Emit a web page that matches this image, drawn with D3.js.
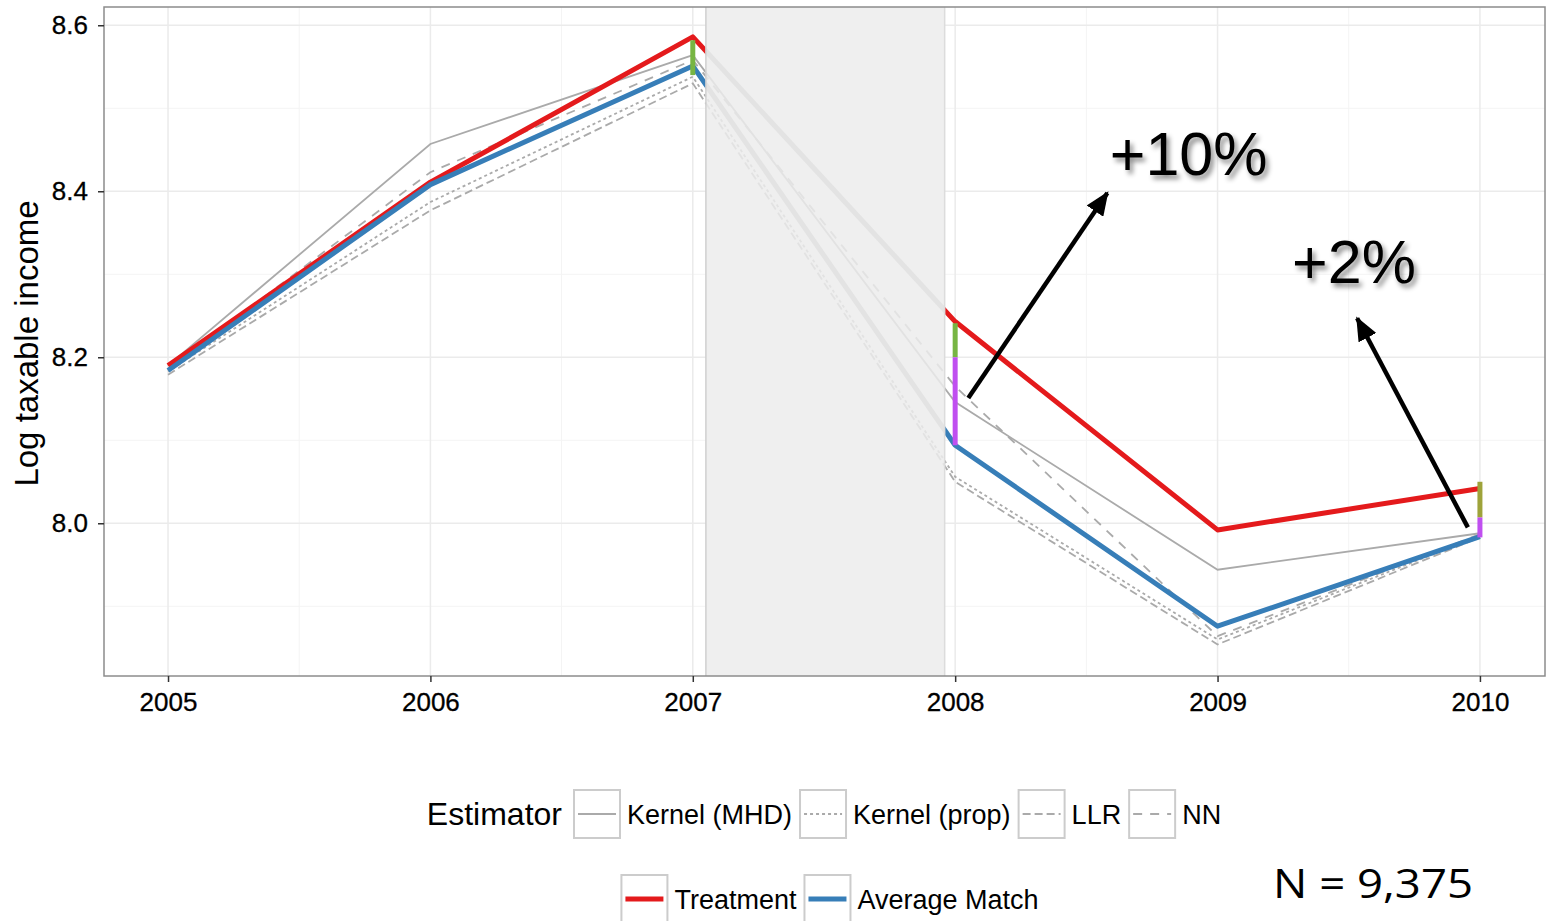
<!DOCTYPE html>
<html>
<head>
<meta charset="utf-8">
<script src="https://cdn.jsdelivr.net/npm/d3@7"></script>
<style>
  body { margin: 0; background: #fff; }
  svg { display: block; font-family: "Liberation Sans", Arial, sans-serif; }
</style>
</head>
<body>
<svg width="1548" height="921"></svg>
<script>
// ---- data ----
var years = [2005, 2006, 2007, 2008, 2009, 2010];
var treatment    = [8.190, 8.411, 8.586, 8.243, 7.992, 8.042];
var averageMatch = [8.184, 8.408, 8.551, 8.094, 7.876, 7.984];
var kernelMHD    = [8.190, 8.457, 8.564, 8.146, 7.944, 7.988];
var kernelProp   = [8.183, 8.387, 8.538, 8.056, 7.860, 7.985];
var llr          = [8.179, 8.377, 8.530, 8.050, 7.854, 7.983];
var nn           = [8.186, 8.423, 8.558, 8.165, 7.864, 7.987];

var estimatorNames = ['Kernel (MHD)', 'Kernel (prop)', 'LLR', 'NN'];
var groupNames = ['Treatment', 'Average Match'];

var yTicks = [8.0, 8.2, 8.4, 8.6];
var yMinor = [7.9, 8.1, 8.3, 8.5];
var xMinor = [2005.5, 2006.5, 2007.5, 2008.5, 2009.5];

// shaded period (in years)
var shadeFrom = 2007.05, shadeTo = 2007.96;

// coloured gap bars: year, low, high, kind
var gapYears = [2007, 2008, 2008, 2010, 2010];
var gapLow   = [8.540, 8.200, 8.094, 8.007, 7.983];
var gapHigh  = [8.582, 8.241, 8.200, 8.050, 8.007];
var gapKind  = ['green', 'green', 'magenta', 'olive', 'magenta'];

// annotation arrows (data coords) and labels
var arrowFromX = [2008.05, 2009.954], arrowFromY = [8.151, 7.995];
var arrowToX   = [2008.58, 2009.532], arrowToY   = [8.398, 8.247];
var noteText = ['+10%', '+2%'];
var noteX = [2008.89, 2009.52], noteY = [8.420, 8.289];

// ---- layout ----
var svg = d3.select('svg');
var panel = {left: 104, top: 7, right: 1545, bottom: 676};

var x = d3.scaleLinear().domain([2004.756, 2010.248]).range([panel.left, panel.right]);
var y = d3.scaleLinear().domain([7.816, 8.622]).range([panel.bottom, panel.top]);

var gapColor = {green: '#77b543', magenta: '#c04ff0', olive: '#9ea33a'};
var estStyle = [
  {dash: null},
  {dash: '3,3'},
  {dash: '8,4'},
  {dash: '9,8'}
];
var estData = [kernelMHD, kernelProp, llr, nn];

var defs = svg.append('defs');
defs.append('clipPath').attr('id', 'panelClip')
  .append('rect')
  .attr('x', panel.left).attr('y', panel.top)
  .attr('width', panel.right - panel.left).attr('height', panel.bottom - panel.top);
defs.append('clipPath').attr('id', 'shadeClip')
  .append('rect')
  .attr('x', x(shadeFrom)).attr('y', panel.top)
  .attr('width', x(shadeTo) - x(shadeFrom)).attr('height', panel.bottom - panel.top);
var shadow = defs.append('filter').attr('id', 'shadow')
  .attr('x', '-20%').attr('y', '-20%').attr('width', '140%').attr('height', '150%');
shadow.append('feDropShadow')
  .attr('dx', 3).attr('dy', 4).attr('stdDeviation', 2.5)
  .attr('flood-color', '#000').attr('flood-opacity', 0.45);
defs.append('marker').attr('id', 'head')
  .attr('markerUnits', 'userSpaceOnUse')
  .attr('viewBox', '0 0 24 20')
  .attr('refX', 22).attr('refY', 10)
  .attr('markerWidth', 24).attr('markerHeight', 20)
  .attr('orient', 'auto')
  .append('path').attr('d', 'M0,0 L24,10 L0,20 Z').attr('fill', '#000');

// panel background and grid
svg.append('rect')
  .attr('x', panel.left).attr('y', panel.top)
  .attr('width', panel.right - panel.left).attr('height', panel.bottom - panel.top)
  .attr('fill', '#fff');

var grid = svg.append('g');
grid.selectAll('.ymin').data(yMinor).enter().append('line')
  .attr('x1', panel.left).attr('x2', panel.right)
  .attr('y1', function(d){ return y(d); }).attr('y2', function(d){ return y(d); })
  .attr('stroke', '#f4f4f4').attr('stroke-width', 1);
grid.selectAll('.xmin').data(xMinor).enter().append('line')
  .attr('y1', panel.top).attr('y2', panel.bottom)
  .attr('x1', function(d){ return x(d); }).attr('x2', function(d){ return x(d); })
  .attr('stroke', '#f4f4f4').attr('stroke-width', 1);
grid.selectAll('.ymaj').data(yTicks).enter().append('line')
  .attr('x1', panel.left).attr('x2', panel.right)
  .attr('y1', function(d){ return y(d); }).attr('y2', function(d){ return y(d); })
  .attr('stroke', '#ebebeb').attr('stroke-width', 1.5);
grid.selectAll('.xmaj').data(years).enter().append('line')
  .attr('y1', panel.top).attr('y2', panel.bottom)
  .attr('x1', function(d){ return x(d); }).attr('x2', function(d){ return x(d); })
  .attr('stroke', '#ebebeb').attr('stroke-width', 1.5);

// lines
var line = d3.line()
  .x(function(d, i){ return x(years[i]); })
  .y(function(d){ return y(d); });

function drawSeries(g, faint) {
  estData.forEach(function(vals, i){
    g.append('path').attr('d', line(vals))
      .attr('fill', 'none')
      .attr('stroke', faint ? '#e2e2e2' : '#aaaaaa')
      .attr('stroke-width', 1.8)
      .attr('stroke-dasharray', estStyle[i].dash);
  });
  g.append('path').attr('d', line(treatment))
    .attr('fill', 'none').attr('stroke', faint ? '#e3e3e3' : '#e41a1c')
    .attr('stroke-width', 5).attr('stroke-linejoin', 'round');
  g.append('path').attr('d', line(averageMatch))
    .attr('fill', 'none').attr('stroke', faint ? '#e3e3e3' : '#377eb8')
    .attr('stroke-width', 5).attr('stroke-linejoin', 'round');
}

var plot = svg.append('g').attr('clip-path', 'url(#panelClip)');
drawSeries(plot.append('g'), false);

// shaded period drawn over the lines
plot.append('rect')
  .attr('x', x(shadeFrom)).attr('y', panel.top)
  .attr('width', x(shadeTo) - x(shadeFrom)).attr('height', panel.bottom - panel.top)
  .attr('fill', '#efefef');
drawSeries(plot.append('g').attr('clip-path', 'url(#shadeClip)'), true);
plot.append('line')
  .attr('x1', x(shadeFrom)).attr('x2', x(shadeFrom))
  .attr('y1', panel.top).attr('y2', panel.bottom)
  .attr('stroke', '#cfcfcf').attr('stroke-width', 1.5);
plot.append('line')
  .attr('x1', x(shadeTo)).attr('x2', x(shadeTo))
  .attr('y1', panel.top).attr('y2', panel.bottom)
  .attr('stroke', '#dcdcdc').attr('stroke-width', 1.5);

// gap bars
plot.selectAll('.gap').data(gapYears).enter().append('line')
  .attr('x1', function(d){ return x(d); }).attr('x2', function(d){ return x(d); })
  .attr('y1', function(d, i){ return y(gapLow[i]); })
  .attr('y2', function(d, i){ return y(gapHigh[i]); })
  .attr('stroke', function(d, i){ return gapColor[gapKind[i]]; })
  .attr('stroke-width', 5);

// panel border
svg.append('rect')
  .attr('x', panel.left).attr('y', panel.top)
  .attr('width', panel.right - panel.left).attr('height', panel.bottom - panel.top)
  .attr('fill', 'none').attr('stroke', '#8c8c8c').attr('stroke-width', 1.5);

// axes
var xAxis = svg.append('g').attr('transform', 'translate(0,' + panel.bottom + ')')
  .call(d3.axisBottom(x).tickValues(years).tickFormat(d3.format('d')).tickSize(6).tickPadding(11));
var yAxis = svg.append('g').attr('transform', 'translate(' + panel.left + ',0)')
  .call(d3.axisLeft(y).tickValues(yTicks).tickFormat(d3.format('.1f')).tickSize(6).tickPadding(10));
[xAxis, yAxis].forEach(function(a){
  a.select('.domain').remove();
  a.selectAll('.tick line').attr('stroke', '#333').attr('stroke-width', 1.5);
  a.selectAll('.tick text').attr('fill', '#000')
    .attr('stroke', '#000').attr('stroke-width', 0.3)
    .style('font-family', '"Liberation Sans", Arial, sans-serif').style('font-size', '26px');
});

svg.append('text')
  .attr('transform', 'translate(38,' + ((panel.top + panel.bottom) / 2 + 2) + ') rotate(-90)')
  .attr('text-anchor', 'middle')
  .style('font-size', '33px').attr('fill', '#000')
  .text('Log taxable income');

// annotations
var notes = svg.append('g');
arrowFromX.forEach(function(d, i){
  notes.append('line')
    .attr('x1', x(arrowFromX[i])).attr('y1', y(arrowFromY[i]))
    .attr('x2', x(arrowToX[i])).attr('y2', y(arrowToY[i]))
    .attr('stroke', '#000').attr('stroke-width', 4.5)
    .attr('marker-end', 'url(#head)');
});
notes.selectAll('.note').data(noteText).enter().append('text')
  .attr('x', function(d, i){ return x(noteX[i]); })
  .attr('y', function(d, i){ return y(noteY[i]); })
  .attr('text-anchor', 'middle')
  .attr('filter', 'url(#shadow)')
  .style('font-size', '61px').attr('fill', '#000')
  .text(function(d){ return d; });

// legend
function legendRow(cy, centerX, title, names, drawKey) {
  var g = svg.append('g');
  var items = [];
  var cursor = 0;
  if (title) {
    var t = g.append('text').attr('y', cy + 11).style('font-size', '32px').text(title);
    items.push({node: t, x: 0});
    cursor = t.node().getComputedTextLength() + 12;
  }
  names.forEach(function(name, i){
    var box = g.append('g');
    box.append('rect').attr('width', 46).attr('height', 48).attr('y', cy - 24)
      .attr('fill', '#fff').attr('stroke', '#cccccc').attr('stroke-width', 2);
    drawKey(box, i, cy);
    items.push({node: box, x: cursor, box: true});
    cursor += 46 + 7;
    var lab = g.append('text').attr('y', cy + 10).style('font-size', '27px').text(name);
    items.push({node: lab, x: cursor});
    cursor += lab.node().getComputedTextLength() + 8;
  });
  var start = centerX - (cursor - 8) / 2;
  items.forEach(function(it){
    if (it.box) it.node.attr('transform', 'translate(' + (start + it.x) + ',0)');
    else it.node.attr('x', start + it.x);
  });
}

legendRow(814, 824, 'Estimator', estimatorNames, function(box, i, cy){
  box.append('line').attr('x1', 4).attr('x2', 42).attr('y1', cy).attr('y2', cy)
    .attr('stroke', '#aaaaaa').attr('stroke-width', 1.8)
    .attr('stroke-dasharray', estStyle[i].dash);
});
var groupColor = ['#e41a1c', '#377eb8'];
legendRow(899, 830, null, groupNames, function(box, i, cy){
  box.append('line').attr('x1', 4).attr('x2', 42).attr('y1', cy).attr('y2', cy)
    .attr('stroke', groupColor[i]).attr('stroke-width', 5);
});

// sample size
svg.append('text')
  .attr('x', 1273).attr('y', 898)
  .attr('textLength', 200).attr('lengthAdjust', 'spacingAndGlyphs')
  .style('font-family', '"Open Sans", sans-serif').style('font-size', '41px')
  .attr('fill', '#000')
  .text('N = 9,375');
</script>
</body>
</html>
